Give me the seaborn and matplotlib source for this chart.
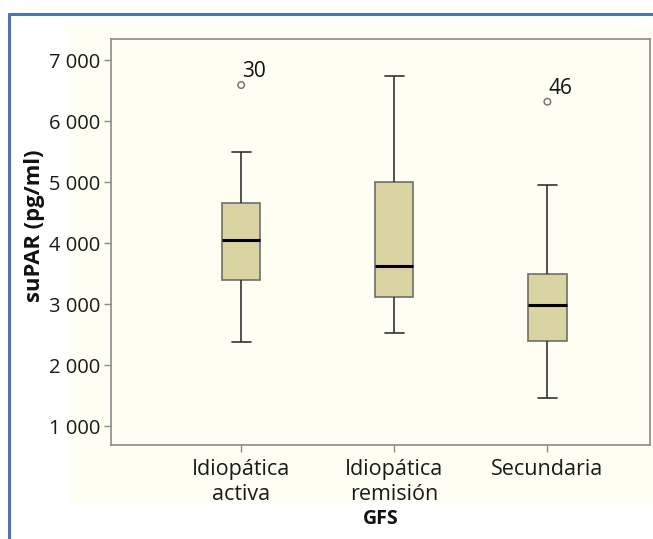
import numpy as np
import pandas as pd
import seaborn as sns
import matplotlib.pyplot as plt
from matplotlib.patches import Rectangle
from matplotlib.ticker import FuncFormatter

# five-number summaries (min, Q1, median, Q3, max)
groups = ["Idiopática\nactiva", "Idiopática\nremisión", "Secundaria"]
activa = [2380, 3400, 4050, 4660, 5500]
remision = [2520, 3120, 3630, 5005, 6745]
secundaria = [1464, 2398, 2984, 3492, 4950]

# outliers with their case numbers
out_groups = ["Idiopática\nactiva", "Secundaria"]
out_values = [6590, 6317]
out_labels = ["30", "46"]

yticks = [1000, 2000, 3000, 4000, 5000, 6000, 7000]

df = pd.DataFrame({
    "GFS": np.repeat(groups, 5),
    "suPAR": activa + remision + secundaria,
})
df_out = pd.DataFrame({"GFS": out_groups, "suPAR": out_values, "lab": out_labels})

sns.set_theme(style="ticks")
plt.rcParams["font.family"] = ["Open Sans", "DejaVu Sans"]

fig = plt.figure(figsize=(6.53, 5.39), dpi=100)
# cream panel behind the chart
fig.add_artist(Rectangle((70 / 653, 1 - 503 / 539), 583 / 653, 476 / 539,
                         transform=fig.transFigure, facecolor="#fefef3",
                         edgecolor="none", zorder=-5))
fig.add_artist(plt.Line2D([8.5 / 653, 8.5 / 653], [0, 1 - 14 / 539],
                          transform=fig.transFigure, color="#4a74bd", lw=2.2))
fig.add_artist(plt.Line2D([8.5 / 653, 1], [1 - 14 / 539, 1 - 14 / 539],
                          transform=fig.transFigure, color="#4a74bd", lw=2.2))

ax = fig.add_axes([111 / 653, 1 - 445 / 539, 539 / 653, 406 / 539])
ax.set_zorder(2)
ax.set_facecolor("#fefef3")

sns.boxplot(data=df, x="GFS", y="suPAR", order=groups, width=0.25,
            color="#d9d4a1", saturation=1, linecolor="#333333", linewidth=1.2,
            whis=1.5, showfliers=False, ax=ax,
            boxprops=dict(edgecolor="#6e6e6e", linewidth=1.2),
            medianprops=dict(color="black", linewidth=2.2),
            whiskerprops=dict(color="#333333", linewidth=1.2),
            capprops=dict(color="#333333", linewidth=1.2))

sns.scatterplot(data=df_out, x="GFS", y="suPAR", ax=ax, s=22, marker="o",
                facecolor="none", edgecolor="#777777", linewidth=1.1, zorder=5)
for _, r in df_out.iterrows():
    ax.annotate(r["lab"], (groups.index(r["GFS"]), r["suPAR"]),
                xytext=(1, 2), textcoords="offset points",
                fontsize=15, color="#111111", ha="left", va="bottom")

ax.set_xlim(-0.85, 2.67)
ax.set_ylim(690, 7345)
ax.set_yticks(yticks)
ax.yaxis.set_major_formatter(FuncFormatter(lambda v, p: f"{int(v):,}".replace(",", " ")))

for s in ax.spines.values():
    s.set_color("#8a8a8a")
    s.set_linewidth(1.2)
ax.tick_params(axis="both", colors="#8a8a8a", length=5, width=1,
               labelcolor="#1a1a1a")
ax.tick_params(axis="y", labelsize=14.5, pad=3)
ax.tick_params(axis="x", labelsize=15.5, pad=5)
for t in ax.get_xticklabels():
    t.set_linespacing(1.25)
ax.set_xlabel("GFS", fontsize=14, fontweight="bold", color="#111111", labelpad=3)
ax.set_ylabel("suPAR (pg/ml)", fontsize=15.8, fontweight="bold", color="#111111")
ax.yaxis.set_label_coords(-0.123, 0.539)

fig.savefig("out.png", dpi=100)
